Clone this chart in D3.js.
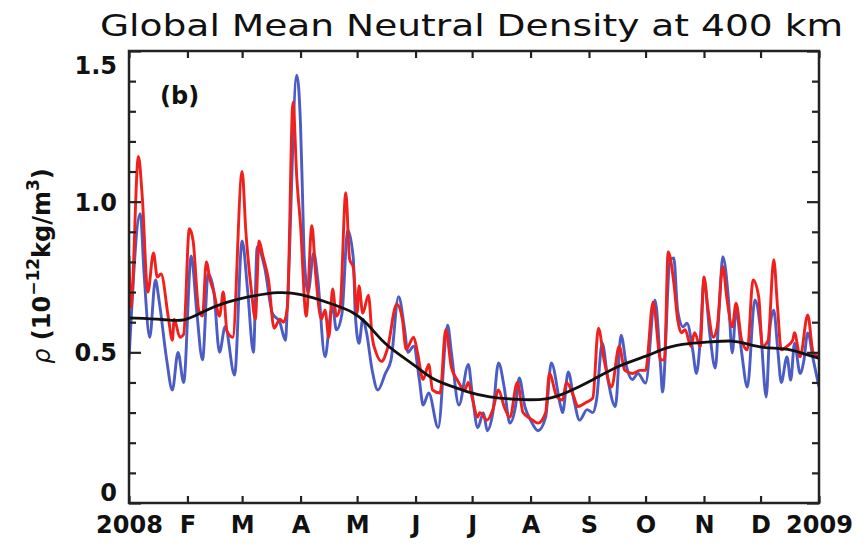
<!DOCTYPE html>
<html>
<head>
<meta charset="utf-8">
<script src="https://cdn.jsdelivr.net/npm/d3@7"></script>
<style>
  html, body { margin: 0; padding: 0; background: #fff; }
  svg { display: block; }
  .lbl { font-family: "DejaVu Sans", sans-serif; font-weight: bold; font-size: 24px; fill: #111; }
</style>
</head>
<body>
<svg id="chart" width="866" height="554"></svg>
<script>
// Global mean neutral density at 400 km through 2008.
// Each series: [day of year (days after 1 Jan 2008), density in 1e-12 kg/m^3]
const blueSeries = [
  [0,0.475],[6,0.96],[8,0.76],[11,0.55],[14,0.74],[16,0.67],[20,0.475],[23,0.375],[26,0.50],[29,0.40],
  [33,0.82],[36,0.63],[39,0.475],[42,0.76],[45,0.70],[48,0.50],[51,0.585],[56,0.425],[60,0.87],[63,0.70],
  [66,0.50],[68,0.85],[72,0.78],[76,0.63],[80,0.60],[83,0.54],[84,0.65],[89,1.42],[91,1.25],[92,1.03],
  [93,0.81],[95,0.70],[98,0.83],[100,0.75],[104,0.485],[107,0.63],[108,0.65],[110,0.575],[113,0.63],[116,0.906],
  [119,0.81],[120,0.63],[122,0.53],[124,0.61],[126,0.565],[129,0.44],[132,0.375],[136,0.43],[139,0.475],[143,0.685],
  [146,0.585],[148,0.50],[151,0.52],[154,0.41],[156,0.325],[159,0.365],[164,0.25],[169,0.59],[171,0.50],[175,0.325],
  [180,0.46],[182,0.365],[185,0.25],[188,0.30],[190,0.24],[193,0.30],[196,0.465],[199,0.385],[202,0.265],[205,0.32],
  [207,0.415],[210,0.32],[213,0.275],[217,0.24],[221,0.285],[224,0.465],[229,0.32],[230,0.30],[233,0.435],[236,0.342],
  [239,0.275],[243,0.31],[246,0.30],[248,0.342],[251,0.53],[254,0.41],[258,0.32],[261,0.557],[264,0.45],[267,0.41],
  [270,0.43],[274,0.398],[279,0.674],[282,0.45],[283,0.368],[287,0.807],[289,0.813],[291,0.64],[294,0.585],[296,0.597],
  [299,0.508],[301,0.43],[303,0.54],[305,0.74],[308,0.565],[311,0.448],[313,0.64],[315,0.817],[318,0.674],[320,0.498],
  [322,0.64],[325,0.498],[328,0.385],[332,0.674],[335,0.574],[338,0.352],[340,0.584],[342,0.64],[344,0.518],[346,0.40],
  [349,0.485],[351,0.408],[353,0.53],[356,0.43],[358,0.474],[360,0.564],[363,0.474],[366,0.385]
];

const redSeries = [
  [0,0.82],[1,0.65],[5,1.15],[7,1.02],[10,0.70],[13,0.83],[15,0.75],[17,0.76],[21,0.61],[23,0.54],
  [24,0.61],[27,0.55],[29,0.56],[32,0.91],[34,0.87],[37,0.64],[39,0.62],[41,0.80],[43,0.74],[45,0.70],
  [48,0.62],[50,0.70],[52,0.57],[55,0.55],[60,1.10],[62,0.90],[65,0.70],[67,0.61],[69,0.87],[71,0.82],
  [74,0.74],[77,0.58],[80,0.61],[82,0.60],[84,0.65],[87,1.33],[89,1.08],[91,0.92],[94,0.62],[97,0.92],
  [99,0.76],[102,0.61],[104,0.64],[106,0.55],[108,0.71],[110,0.62],[112,0.65],[115,1.03],[117,0.81],[119,0.78],
  [121,0.63],[122,0.72],[124,0.63],[127,0.69],[129,0.55],[131,0.50],[134,0.47],[137,0.51],[142,0.66],[145,0.61],
  [147,0.51],[151,0.55],[153,0.50],[156,0.41],[159,0.46],[161,0.375],[165,0.365],[168,0.575],[171,0.45],[174,0.41],
  [178,0.375],[180,0.40],[182,0.35],[185,0.285],[186,0.30],[190,0.275],[193,0.31],[196,0.375],[199,0.32],[202,0.285],
  [206,0.40],[209,0.30],[213,0.28],[217,0.265],[221,0.30],[223,0.43],[227,0.352],[230,0.342],[232,0.40],[236,0.352],
  [238,0.32],[242,0.332],[246,0.348],[249,0.58],[252,0.475],[256,0.385],[260,0.52],[263,0.44],[267,0.43],[271,0.44],
  [274,0.44],[278,0.667],[282,0.475],[284,0.475],[286,0.833],[289,0.73],[291,0.61],[293,0.565],[295,0.575],[298,0.52],
  [300,0.565],[303,0.52],[305,0.75],[307,0.65],[310,0.55],[312,0.585],[315,0.785],[317,0.685],[320,0.585],[322,0.663],
  [325,0.54],[328,0.508],[331,0.74],[334,0.685],[336,0.52],[339,0.54],[342,0.807],[344,0.65],[346,0.508],[349,0.52],
  [352,0.54],[353,0.565],[356,0.485],[360,0.624],[363,0.498],[366,0.485]
];

const blackSeries = [
  [0,0.614],[19,0.61],[29,0.60],[39,0.635],[51,0.667],[68,0.69],[79,0.70],[90,0.697],[108,0.66],[119,0.635],
  [126,0.60],[135,0.53],[144,0.49],[153,0.45],[161,0.41],[170,0.39],[181,0.365],[190,0.352],[207,0.342],[222,0.342],
  [232,0.365],[246,0.408],[260,0.458],[275,0.487],[285,0.518],[297,0.53],[309,0.535],[320,0.54],[327,0.53],[336,0.514],
  [348,0.514],[357,0.498],[366,0.48]
];

const monthLabels = ["2008","F","M","A","M","J","J","A","S","O","N","D","2009"];
const yMajorTicks = [0, 0.5, 1.0, 1.5];
const yMajorLabels = ["0", "0.5", "1.0", "1.5"];
const yMinorTicks = [0.1,0.2,0.3,0.4,0.6,0.7,0.8,0.9,1.1,1.2,1.3,1.4];

const titleText = "Global Mean Neutral Density at 400 km";
const panelTag = "(b)";

const margin = { left: 129, right: 47, top: 51, bottom: 51 };
const W = 866, H = 554;
const svg = d3.select("#chart");

const t0 = new Date(Date.UTC(2008, 0, 1));
const t1 = new Date(Date.UTC(2009, 0, 1));
const x = d3.scaleUtc().domain([t0, t1]).range([margin.left, W - margin.right]);
const y = d3.scaleLinear().domain([0, 1.5]).range([H - margin.bottom, margin.top]);
const dayToDate = d => new Date(t0.getTime() + d * 86400000);
const monthTicks = d3.utcMonth.range(t0, d3.utcDay.offset(t1, 1));

svg.append("clipPath").attr("id", "plotClip")
  .append("rect")
  .attr("x", x.range()[0]).attr("y", y.range()[1])
  .attr("width", x.range()[1] - x.range()[0])
  .attr("height", y.range()[0] - y.range()[1]);

const line = d3.line()
  .x(d => x(dayToDate(d[0])))
  .y(d => y(d[1]))
  .curve(d3.curveMonotoneX);

const plot = svg.append("g").attr("clip-path", "url(#plotClip)");
plot.append("path").datum(blueSeries)
  .attr("d", line).attr("fill", "none")
  .attr("stroke", "#4b5cc4").attr("stroke-width", 2.9).attr("stroke-linejoin", "round");
plot.append("path").datum(redSeries)
  .attr("d", line).attr("fill", "none")
  .attr("stroke", "#f0211c").attr("stroke-width", 2.9).attr("stroke-linejoin", "round");
plot.append("path").datum(blackSeries)
  .attr("d", line.curve(d3.curveBasis)).attr("fill", "none")
  .attr("stroke", "#111").attr("stroke-width", 2.8);

// Axes: ticks drawn inward on all four sides
const tickStroke = g => g.selectAll(".tick line").attr("stroke", "#222").attr("stroke-width", 2.2);
const labelStyle = g => g.selectAll("text").attr("class", "lbl")
  .attr("fill", null).attr("font-size", null).attr("font-family", null);

const xBottom = d3.axisBottom(x).tickValues(monthTicks).tickSize(-7).tickPadding(13)
  .tickFormat((d, i) => monthLabels[i]);
svg.append("g").attr("transform", `translate(0,${y.range()[0]})`).call(xBottom)
  .call(g => g.select(".domain").remove())
  .call(tickStroke).call(labelStyle);

const xTop = d3.axisTop(x).tickValues(monthTicks).tickSize(-7).tickFormat("");
svg.append("g").attr("transform", `translate(0,${y.range()[1]})`).call(xTop)
  .call(g => g.select(".domain").remove()).call(tickStroke);

const yLeftMajor = d3.axisLeft(y).tickValues(yMajorTicks).tickSize(-12).tickPadding(12)
  .tickFormat((d, i) => yMajorLabels[i]);
svg.append("g").attr("transform", `translate(${x.range()[0]},0)`).call(yLeftMajor)
  .call(g => g.select(".domain").remove())
  .call(tickStroke).call(labelStyle)
  .call(g => g.selectAll("text")
    .attr("dy", d => d === 0 ? "-0.12em" : d === 1.5 ? "0.95em" : "0.36em"));

const yLeftMinor = d3.axisLeft(y).tickValues(yMinorTicks).tickSize(-7).tickFormat("");
svg.append("g").attr("transform", `translate(${x.range()[0]},0)`).call(yLeftMinor)
  .call(g => g.select(".domain").remove()).call(tickStroke);

const yRightMajor = d3.axisRight(y).tickValues(yMajorTicks).tickSize(-12).tickFormat("");
svg.append("g").attr("transform", `translate(${x.range()[1]},0)`).call(yRightMajor)
  .call(g => g.select(".domain").remove()).call(tickStroke);
const yRightMinor = d3.axisRight(y).tickValues(yMinorTicks).tickSize(-7).tickFormat("");
svg.append("g").attr("transform", `translate(${x.range()[1]},0)`).call(yRightMinor)
  .call(g => g.select(".domain").remove()).call(tickStroke);

// Frame
svg.append("rect")
  .attr("x", x.range()[0]).attr("y", y.range()[1])
  .attr("width", x.range()[1] - x.range()[0])
  .attr("height", y.range()[0] - y.range()[1])
  .attr("fill", "none").attr("stroke", "#222").attr("stroke-width", 2.5);

// Title
svg.append("text")
  .attr("x", 100).attr("y", 36)
  .attr("textLength", 743).attr("lengthAdjust", "spacingAndGlyphs")
  .attr("font-family", "'DejaVu Sans', sans-serif").attr("font-size", 31)
  .attr("fill", "#111")
  .text(titleText);

// Panel tag
svg.append("text").attr("class", "lbl")
  .attr("x", 160).attr("y", 104)
  .text(panelTag);

// Y-axis title
const yTitle = svg.append("text").attr("class", "lbl")
  .attr("transform", "translate(50,266) rotate(-90)")
  .attr("text-anchor", "middle")
  .attr("font-size", 27);
yTitle.append("tspan").attr("font-style", "italic").attr("font-weight", "normal").text("ρ");
yTitle.append("tspan").text(" (10");
yTitle.append("tspan").attr("font-size", 17).attr("dy", -11).text("−12");
yTitle.append("tspan").attr("dy", 11).text("kg/m");
yTitle.append("tspan").attr("font-size", 17).attr("dy", -11).text("3");
yTitle.append("tspan").attr("dy", 11).text(")");
</script>
</body>
</html>
